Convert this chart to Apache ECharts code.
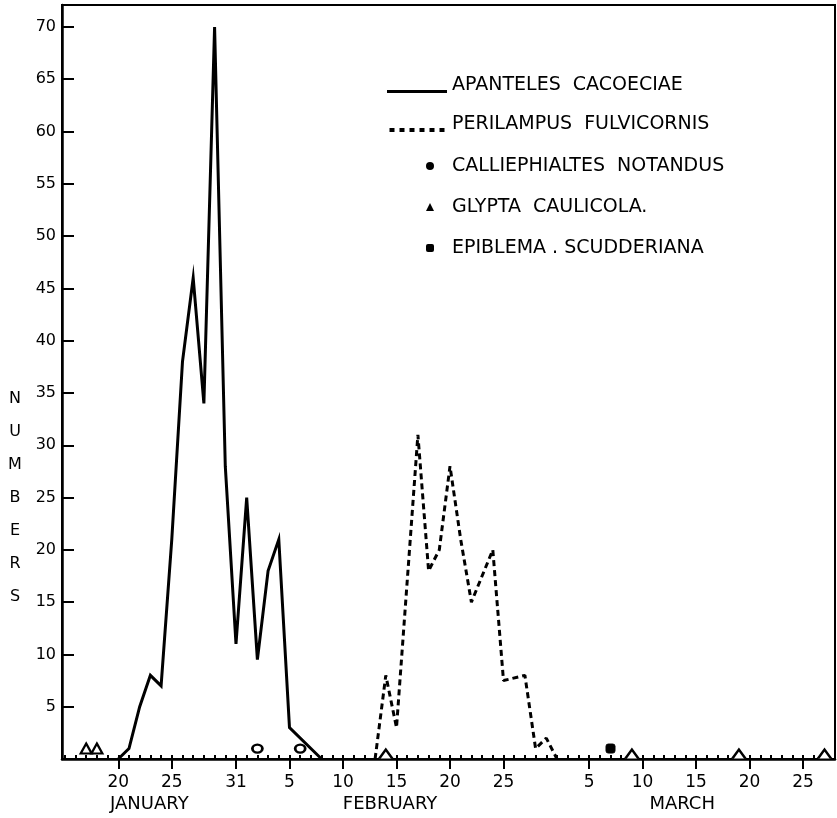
<!DOCTYPE html>
<html><head><meta charset="utf-8">
<script src="https://cdn.jsdelivr.net/npm/echarts@6/dist/echarts.min.js"></script>
<style>html,body{margin:0;padding:0;background:#fff}#c{width:837px;height:818px}</style>
</head><body><div id="c"></div>
<script>
// Day numbers counted from 1 January (Feb has 28 days: 1 Mar = day 60)
const apantelesDays   = [20, 21, 22, 23, 24, 25, 26, 27, 28, 29, 30, 31, 32, 33, 34, 35, 36, 39];
const apantelesCounts = [0, 1, 5, 8, 7, 21, 38, 46, 34, 70, 28, 11, 25, 9.5, 18, 21, 3, 0];

const perilampusDays   = [44, 45, 46, 48, 49, 50, 51, 52, 53, 55, 56, 58, 59, 60, 61];
const perilampusCounts = [0, 8, 3, 31, 18, 20, 28, 21, 15, 20, 7.5, 8, 1, 2, 0];

const calliephialtesDays   = [33, 37];
const calliephialtesCounts = [1, 1];

const glyptaDays   = [17, 18, 45, 68, 78, 86];
const glyptaCounts = [1, 1, 0, 0, 0, 0];

const epiblemaDays   = [66];
const epiblemaCounts = [1];

const tickLabelDays = [20, 25, 31, 36, 41, 46, 51, 56, 64, 69, 74, 79, 84];
const tickLabels    = ['20', '25', '31', '5', '10', '15', '20', '25', '5', '10', '15', '20', '25'];
const monthNames    = ['JANUARY', 'FEBRUARY', 'MARCH'];

const seriesNames = ['APANTELES  CACOECIAE', 'PERILAMPUS  FULVICORNIS', 'CALLIEPHIALTES  NOTANDUS', 'GLYPTA  CAULICOLA.', 'EPIBLEMA . SCUDDERIANA'];

const FONT = 'DejaVu Sans';
const pairs = (xs, ys) => xs.map((x, i) => [x, ys[i]]);
const X_MIN = 14.74, X_MAX = 86.98;
const minorTicks = [];
for (let d = 15; d <= 86; d++) minorTicks.push(d);
const monthAnchors = [22.9, 45.4, 72.7];
const chevron = 'path://M0,10 L7,0 L14,10';
const solidIcon = 'path://M0,0 L0,0.05 L0.05,0.05 Z M0,13 L60,13 L60,16 L0,16 Z';
let dots = 'path://M0,0 L0,0.05 L0.05,0.05 Z';
for (let k = 0; k < 6; k++) { const x0 = k * 10; dots += ` M${x0},12 L${x0 + 5},12 L${x0 + 5},16 L${x0},16 Z`; }
const dottedIcon = dots;

const chart = echarts.init(document.getElementById('c'), null, {renderer: 'canvas'});
const baseX = {
  type: 'value', min: X_MIN, max: X_MAX, position: 'bottom',
  splitLine: {show: false}
};
chart.setOption({
  animation: false,
  backgroundColor: '#fff',
  grid: {left: 62, right: 2, top: 5, bottom: 59, show: true, borderColor: '#000', borderWidth: 2, backgroundColor: 'transparent'},
  xAxis: [
    Object.assign({}, baseX, {
      axisLine: {show: true, lineStyle: {color: '#000', width: 2.5}},
      axisTick: {show: true, inside: true, length: 4, lineStyle: {color: '#000', width: 2}, customValues: minorTicks},
      axisLabel: {show: false}
    }),
    Object.assign({}, baseX, {
      axisLine: {show: false},
      axisTick: {show: true, inside: false, length: 10, lineStyle: {color: '#000', width: 2}, customValues: tickLabelDays},
      axisLabel: {show: true, margin: 15, color: '#000', fontFamily: FONT, fontSize: 17,
        customValues: tickLabelDays,
        formatter: v => { const i = tickLabelDays.indexOf(Math.round(v)); return i >= 0 ? tickLabels[i] : ''; }}
    }),
    Object.assign({}, baseX, {
      axisLine: {show: false},
      axisTick: {show: false},
      axisLabel: {show: true, margin: 36, color: '#000', fontFamily: FONT, fontSize: 18,
        customValues: monthAnchors,
        formatter: v => { const i = monthAnchors.indexOf(v); return i >= 0 ? monthNames[i] : ''; }}
    })
  ],
  yAxis: {
    type: 'value', min: 0, max: 72.1, interval: 5,
    axisLine: {show: true, lineStyle: {color: '#000', width: 2.5}},
    axisTick: {show: true, inside: true, length: 12, lineStyle: {color: '#000', width: 2}},
    axisLabel: {margin: 6, color: '#000', fontFamily: FONT, fontSize: 16,
      formatter: v => (v > 0 && Math.abs(v % 5) < 1e-6) ? String(v) : ''},
    splitLine: {show: false}
  },
  legend: [
    {
      orient: 'vertical', left: 382, top: 69, itemWidth: 60, itemHeight: 16, itemGap: 17,
      selectedMode: false,
      textStyle: {fontFamily: FONT, fontSize: 19, color: '#000', padding: [0, 0, 0, 0], lineHeight: 22},
      data: [
        {name: seriesNames[0], icon: solidIcon, itemStyle: {color: '#000', borderWidth: 0}},
        {name: seriesNames[1], icon: dottedIcon, itemStyle: {color: '#000', borderWidth: 0}}
      ]
    },
    {
      orient: 'vertical', left: 421, top: 150, itemWidth: 8, itemHeight: 8, itemGap: 19,
      selectedMode: false,
      textStyle: {fontFamily: FONT, fontSize: 19, color: '#000', padding: [0, 0, 0, 13], lineHeight: 22},
      data: [
        {name: seriesNames[2], icon: 'circle', itemStyle: {color: '#000', borderWidth: 0, opacity: 1}},
        {name: seriesNames[3], icon: 'triangle', itemStyle: {color: '#000', borderWidth: 0, opacity: 1}},
        {name: seriesNames[4], icon: 'roundRect', itemStyle: {color: '#000', borderWidth: 0, opacity: 1}}
      ]
    }
  ],
  graphic: [{
    type: 'text', x: 15, y: 382,
    style: {text: 'N\nU\nM\nB\nE\nR\nS', font: '16px "DejaVu Sans"', lineHeight: 33, fill: '#000', align: 'center', verticalAlign: 'top'}
  }],
  series: [
    {
      name: seriesNames[0], type: 'line', xAxisIndex: 0, symbol: 'none',
      lineStyle: {color: '#000', width: 3, join: 'miter'}, itemStyle: {color: '#000'},
      data: pairs(apantelesDays, apantelesCounts), z: 5
    },
    {
      name: seriesNames[1], type: 'line', xAxisIndex: 0, symbol: 'none',
      lineStyle: {color: '#000', width: 3, type: [6, 4]}, itemStyle: {color: '#000'},
      data: pairs(perilampusDays, perilampusCounts), z: 5
    },
    {
      name: seriesNames[2], type: 'scatter', xAxisIndex: 0, symbol: 'circle', symbolSize: [10, 8],
      itemStyle: {color: '#fff', borderColor: '#000', borderWidth: 2.5, opacity: 1},
      data: pairs(calliephialtesDays, calliephialtesCounts), z: 6
    },
    {
      name: seriesNames[3], type: 'scatter', xAxisIndex: 0,
      symbol: v => v[1] === 0 ? chevron : 'triangle',
      symbolSize: v => v[1] === 0 ? [13, 9] : [11, 10],
      symbolOffset: v => v[1] === 0 ? [0, -5] : [0, 0],
      itemStyle: {color: '#fff', borderColor: '#000', borderWidth: 2.2, opacity: 1},
      data: pairs(glyptaDays, glyptaCounts), z: 6
    },
    {
      name: seriesNames[4], type: 'scatter', xAxisIndex: 0, symbol: 'roundRect', symbolSize: 9,
      itemStyle: {color: '#000', borderColor: '#000', borderWidth: 1, opacity: 1},
      data: pairs(epiblemaDays, epiblemaCounts), z: 6
    }
  ]
});
</script>
</body></html>
